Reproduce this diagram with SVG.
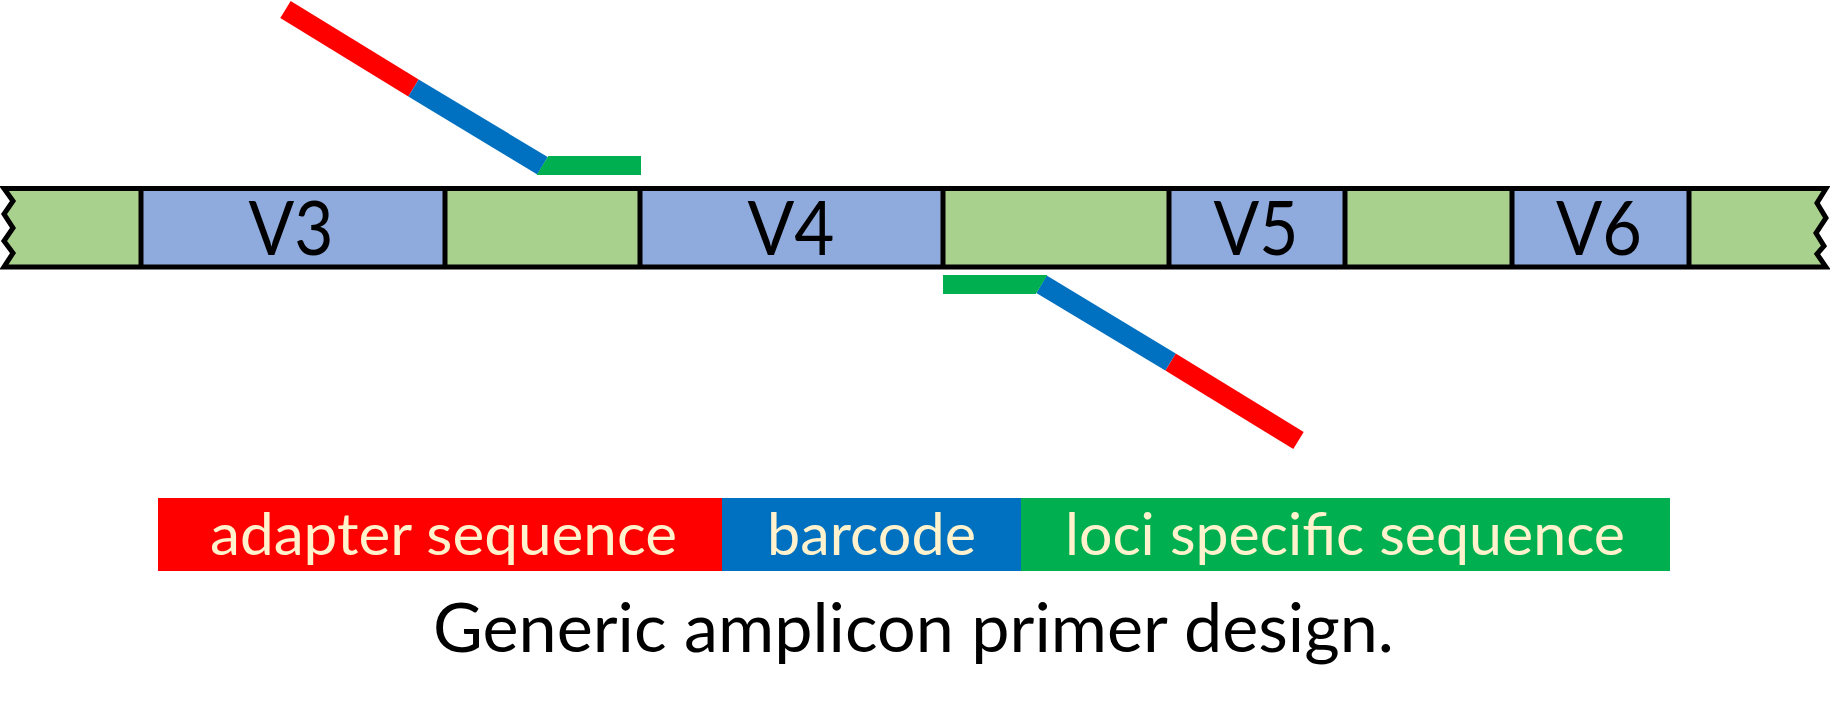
<svg xmlns="http://www.w3.org/2000/svg" width="1830" height="716" viewBox="0 0 1830 716">
<style>
.seg-g{fill:#A9D18E}
.seg-b{fill:#8FAADC}
.edge{fill:none;stroke:#000;stroke-width:5;stroke-linejoin:miter}
.div{stroke:#000;stroke-width:5}
.vlab{font-family:Lato,"Open Sans",sans-serif;font-size:75px;fill:#000;text-anchor:middle}
.leg{font-family:Lato,"Open Sans",sans-serif;font-size:59px;fill:#FFF2CC;text-anchor:middle}
.cap{font-family:Lato,"Open Sans",sans-serif;font-size:67px;fill:#000;text-anchor:middle}
.red{fill:#FF0000}.blue{fill:#0070C0}.green{fill:#00B050}
</style>
<defs>
<clipPath id="strandClip">
<path id="outline" d="M4,188.5 L1826,188.5 L1817,203 L1826,218 L1816,233 L1824,246 L1817,254 L1826,267 L4,267 L13,253 L4,241 L13,228 L4,214 L13,201 Z"/>
</clipPath>
<g id="primerShape">
<polygon class="red" points="290.7,1 418.7,79.5 408.3,96.5 280.3,18"/>
<polygon class="blue" points="418.7,79.5 547.7,157 537.3,174.5 408.3,96.5"/>
<polygon class="green" points="548.3,156 641,156 641,175 536.7,175"/>
</g>
</defs>
<g id="strand">
<g clip-path="url(#strandClip)">
<rect class="seg-g" x="0" y="186" width="141" height="84"/>
<rect class="seg-b" x="141" y="186" width="304" height="84"/>
<rect class="seg-g" x="445" y="186" width="195" height="84"/>
<rect class="seg-b" x="640" y="186" width="303" height="84"/>
<rect class="seg-g" x="943" y="186" width="226" height="84"/>
<rect class="seg-b" x="1169" y="186" width="176" height="84"/>
<rect class="seg-g" x="1345" y="186" width="167" height="84"/>
<rect class="seg-b" x="1512" y="186" width="177" height="84"/>
<rect class="seg-g" x="1689" y="186" width="141" height="84"/>
</g>
<path class="edge" d="M4,188.5 L1826,188.5 L1817,203 L1826,218 L1816,233 L1824,246 L1817,254 L1826,267 L4,267 L13,253 L4,241 L13,228 L4,214 L13,201 Z"/>
<g class="div">
<line x1="141" y1="188" x2="141" y2="267"/>
<line x1="445" y1="188" x2="445" y2="267"/>
<line x1="640" y1="188" x2="640" y2="267"/>
<line x1="943" y1="188" x2="943" y2="267"/>
<line x1="1169" y1="188" x2="1169" y2="267"/>
<line x1="1345" y1="188" x2="1345" y2="267"/>
<line x1="1512" y1="188" x2="1512" y2="267"/>
<line x1="1689" y1="188" x2="1689" y2="267"/>
</g>
</g>
<g id="label-V3"><text class="vlab" x="291" y="255" textLength="85" lengthAdjust="spacingAndGlyphs">V3</text></g>
<g id="label-V4"><text class="vlab" x="791" y="255" textLength="87" lengthAdjust="spacingAndGlyphs">V4</text></g>
<g id="label-V5"><text class="vlab" x="1256" y="255" textLength="85" lengthAdjust="spacingAndGlyphs">V5</text></g>
<g id="label-V6"><text class="vlab" x="1599" y="255" textLength="86" lengthAdjust="spacingAndGlyphs">V6</text></g>
<g id="forward-primer"><use href="#primerShape"/></g>
<g id="reverse-primer"><use href="#primerShape" transform="rotate(180 792 225)"/></g>
<g id="legend">
<rect class="red" x="158" y="498" width="564" height="73"/>
<rect class="blue" x="722" y="498" width="299" height="73"/>
<rect class="green" x="1021" y="498" width="649" height="73"/>
<text class="leg" x="443.5" y="555" textLength="467" lengthAdjust="spacingAndGlyphs">adapter sequence</text>
<text class="leg" x="871.5" y="555" textLength="209" lengthAdjust="spacingAndGlyphs">barcode</text>
<text class="leg" x="1345" y="555" textLength="560" lengthAdjust="spacingAndGlyphs">loci specific sequence</text>
</g>
<g id="caption"><text class="cap" x="913.5" y="652" textLength="961" lengthAdjust="spacingAndGlyphs">Generic amplicon primer design.</text></g>
</svg>
